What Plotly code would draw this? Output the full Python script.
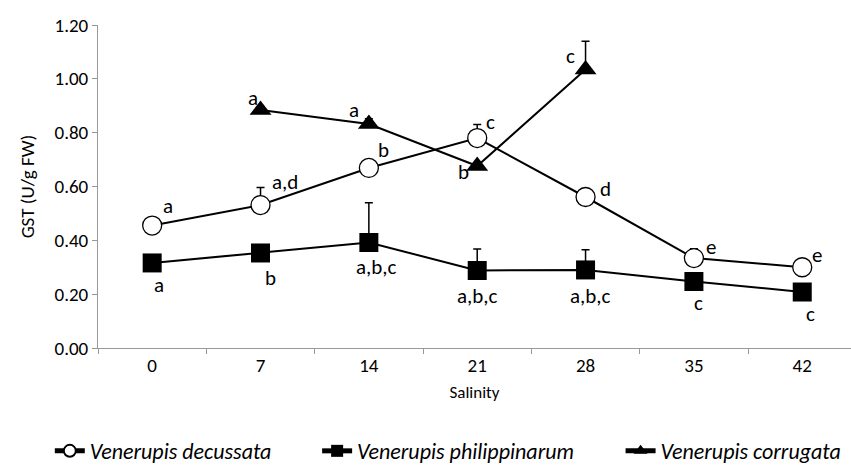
import plotly.graph_objects as go

salinity = ["0", "7", "14", "21", "28", "35", "42"]

dec_vals = [0.455, 0.531, 0.669, 0.780, 0.561, 0.334, 0.300]
dec_err = [0.0, 0.065, 0.0, 0.050, 0.0, 0.035, 0.0]
dec_letters = ["a", "a,d", "b", "c", "d", "e", "e"]

phi_vals = [0.316, 0.353, 0.392, 0.288, 0.290, 0.247, 0.208]
phi_err = [0.0, 0.0, 0.148, 0.080, 0.075, 0.0, 0.0]
phi_letters = ["a", "b", "a,b,c", "a,b,c", "a,b,c", "c", "c"]

cor_sal = ["7", "14", "21", "28"]
cor_vals = [0.884, 0.832, 0.676, 1.035]
cor_err = [0.0, 0.020, 0.0, 0.105]
cor_letters = ["a", "a", "b", "c"]

FONT = "Carlito, Calibri, Lato, sans-serif"

fig = go.Figure()

eb = dict(symmetric=False, color="black", thickness=1.5, width=4)

fig.add_trace(go.Scatter(
    x=salinity, y=dec_vals, name="<i>Venerupis decussata</i>",
    mode="lines+markers", legend="legend",
    line=dict(color="black", width=2),
    marker=dict(symbol="circle", size=19, color="white", line=dict(color="black", width=1.3)),
    error_y=dict(type="data", array=dec_err, arrayminus=[0]*7, **eb),
))
fig.add_trace(go.Scatter(
    x=salinity, y=phi_vals, name="<i>Venerupis philippinarum</i>",
    mode="lines+markers", legend="legend2",
    line=dict(color="black", width=2),
    marker=dict(symbol="square", size=19, color="black"),
    error_y=dict(type="data", array=phi_err, arrayminus=[0]*7, **eb),
))
fig.add_trace(go.Scatter(
    x=cor_sal, y=cor_vals, name="<i>Venerupis corrugata</i>",
    mode="lines+markers", legend="legend3",
    line=dict(color="black", width=2),
    marker=dict(symbol="triangle-up", size=19, color="black"),
    error_y=dict(type="data", array=cor_err, arrayminus=[0]*4, **eb),
))

dec_off = [(16, 20), (24, 23), (15, 18), (13, 16), (20, 8), (17, 11), (15, 12)]
phi_off = [(7, -22), (10, -25), (8, -25), (0, -26), (5, -26), (5, -21), (8, -22)]
cor_off = [(-8, 12), (-15, 14), (-14, -6), (-15, 13)]

anns = []
for xs, ys, labs, offs in [(salinity, dec_vals, dec_letters, dec_off),
                            (salinity, phi_vals, phi_letters, phi_off),
                            (cor_sal, cor_vals, cor_letters, cor_off)]:
    for x, y, t, (dx, dy) in zip(xs, ys, labs, offs):
        anns.append(dict(x=salinity.index(x), y=y, xref="x", yref="y", text=t, showarrow=False,
                         xshift=dx, yshift=dy, xanchor="center", yanchor="middle",
                         font=dict(family=FONT, size=21, color="black")))

leg_common = dict(orientation="h", yanchor="middle", y=-0.319, xanchor="left",
                  font=dict(family=FONT, size=22, color="black"), bgcolor="rgba(0,0,0,0)",
                  itemsizing="constant")

fig.update_layout(
    width=851, height=473,
    margin=dict(l=98, r=0, t=25, b=125),
    paper_bgcolor="white", plot_bgcolor="white",
    font=dict(family=FONT, color="black"),
    annotations=anns,
    showlegend=True,
    legend=dict(x=-0.064, **leg_common),
    legend2=dict(x=0.291, **leg_common),
    legend3=dict(x=0.694, **leg_common),
    xaxis=dict(type="category", categoryorder="array", categoryarray=salinity,
               range=[-0.5, 6.45], tickson="boundaries", ticks="outside", ticklen=5,
               tickcolor="#999", showline=True, linecolor="#999", linewidth=1,
               showgrid=False, zeroline=False,
               tickfont=dict(family=FONT, size=19, color="black"),
               title=dict(text="Salinity", font=dict(family=FONT, size=17, color="black"), standoff=10)),
    yaxis=dict(range=[0, 1.2], tickvals=[0, 0.2, 0.4, 0.6, 0.8, 1.0, 1.2], tickformat=".2f",
               ticks="outside", ticklen=5, tickcolor="#999", showline=True, linecolor="#999",
               linewidth=1, showgrid=False, zeroline=False,
               tickfont=dict(family=FONT, size=19, color="black"),
               title=dict(text="GST (U/g FW)", font=dict(family=FONT, size=19, color="black"), standoff=14)),
)

fig.write_html("out.html")
